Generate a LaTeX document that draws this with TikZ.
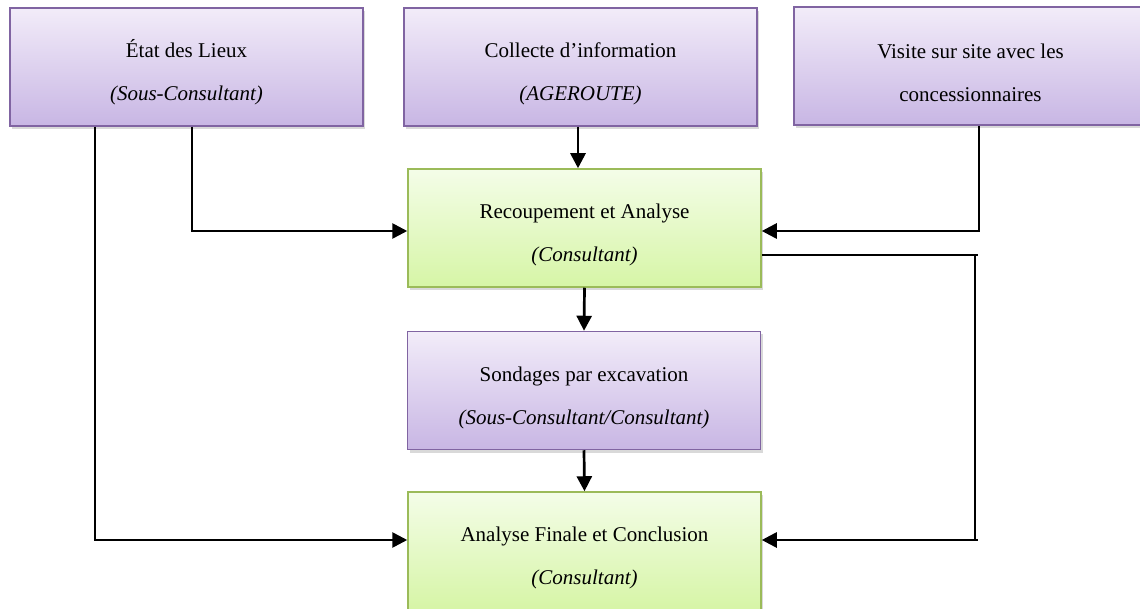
\documentclass[tikz,border=0pt]{standalone}
\usepackage{fontspec}
\setmainfont{Liberation Serif}
\usetikzlibrary{arrows.meta,shadows}
\definecolor{purpTop}{RGB}{242,236,249}
\definecolor{purpBot}{RGB}{200,182,228}
\definecolor{purpLine}{RGB}{128,100,162}
\definecolor{grnTop}{RGB}{244,253,232}
\definecolor{grnBot}{RGB}{214,245,166}
\definecolor{grnLine}{RGB}{155,187,89}
\newcommand{\toplift}{\rule{0pt}{29pt}}
\tikzset{
  box/.style={minimum width=353pt, minimum height=118pt, align=center, inner sep=0pt,
    line width=1.5pt, font=\fontsize{21}{43}\selectfont,
    drop shadow={shadow xshift=2pt,shadow yshift=-3pt,opacity=0.3}},
  purplebox/.style={box, draw=purpLine, top color=purpTop, bottom color=purpBot},
  greenbox/.style={box, draw=grnLine, top color=grnTop, bottom color=grnBot},
  conn/.style={line width=2.7pt, black},
  arr/.style={conn, -{Triangle[width=15pt,length=15pt]}}
}
\begin{document}
\begin{tikzpicture}[x=1pt,y=-1pt]
\useasboundingbox (0,0) rectangle (1140,609);
\clip (0,0) rectangle (1140,609);
\node[purplebox] (etat) at (186.5,67) {\toplift État des Lieux\\\textit{(Sous-Consultant)}};
\node[purplebox] (collecte) at (580.5,67) {\toplift Collecte d’information\\\textit{(AGEROUTE)}};
\node[purplebox] (visite) at (970.5,66) {\toplift Visite sur site avec les\\concessionnaires};
\node[greenbox] (recoup) at (584.5,228) {\toplift Recoupement et Analyse\\\textit{(Consultant)}};
\node[purplebox] (sondages) at (584,390.5) {\toplift Sondages par excavation\\\textit{(Sous-Consultant/Consultant)}};
\node[greenbox] (finale) at (584.5,551) {\toplift Analyse Finale et Conclusion\\\textit{(Consultant)}};
\coordinate (c1) at (95,540);
\coordinate (c2) at (192,231);
\coordinate (c3) at (979,231);
\coordinate (c4) at (975,255);
\coordinate (c4e) at (978,255);
\coordinate (c5) at (975,540);
\coordinate (c5e) at (978,540);
\coordinate (ca) at (578,0);
\draw[arr] (etat.south -| c1) -- (c1) -- (finale.west |- c1);
\draw[arr] (etat.south -| c2) -- (c2) -- (recoup.west |- c2);
\draw[arr] (collecte.south -| ca) -- (recoup.north -| ca);
\draw[arr] (recoup.south) -- (sondages.north);
\draw[arr] (sondages.south) -- (finale.north);
\draw[arr] (visite.south -| c3) -- (c3) -- (recoup.east |- c3);
\draw[conn] (recoup.east |- c4) -- (c4e);
\draw[arr] (c4) -- (c5) -- (finale.east |- c5);
\draw[conn] (c5) -- (c5e);
\end{tikzpicture}
\end{document}
